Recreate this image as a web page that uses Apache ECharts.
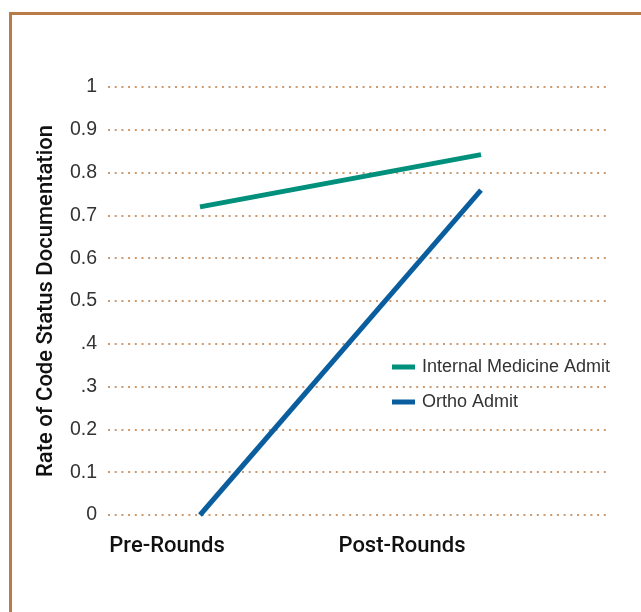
<!DOCTYPE html>
<html>
<head>
<meta charset="utf-8">
<script src="https://cdn.jsdelivr.net/npm/echarts@6/dist/echarts.min.js"></script>
<style>
html,body{margin:0;padding:0;background:#fff;}
#frame{position:absolute;left:9px;top:12px;width:700px;height:700px;border-top:3px solid #b97c48;border-left:3px solid #b97c48;box-sizing:border-box;}
#chart{position:absolute;left:0;top:0;width:641px;height:612px;}
</style>
</head>
<body>
<div id="frame"></div>
<div id="chart"></div>
<script>
const categories = ['Pre-Rounds', 'Post-Rounds'];
const seriesNames = ['Internal Medicine Admit', 'Ortho Admit'];
const internalMedicine = [0.72, 0.842];
const orthoAdmit = [0.0, 0.759];
const yTickLabels = ['0', '0.1', '0.2', '.3', '.4', '0.5', '0.6', '0.7', '0.8', '0.9', '1'];
const yAxisTitle = 'Rate of Code Status Documentation';

const chart = echarts.init(document.getElementById('chart'), null, {renderer: 'canvas'});
const FONT = "'Liberation Sans', Arial, sans-serif";
const BOLDFONT = "Roboto, sans-serif";
const TOP = 87, BOTTOM = 612 - 515;
const yCommon = {type: 'value', min: 0, max: 1, interval: 0.1};

chart.setOption({
  animation: false,
  backgroundColor: 'transparent',
  grid: [
    {left: 108, right: 33, top: TOP, bottom: BOTTOM},
    {left: 59.5, width: 562, top: TOP, bottom: BOTTOM},
    {left: 49.5, width: 470, top: TOP, bottom: BOTTOM}
  ],
  xAxis: [
    {gridIndex: 0, type: 'value', show: false},
    {gridIndex: 1, type: 'category', data: categories, boundaryGap: true, show: false},
    {gridIndex: 2, type: 'category', data: categories, boundaryGap: true,
      axisLine: {show: false}, axisTick: {show: false},
      axisLabel: {color: '#111', fontFamily: BOLDFONT, fontWeight: 500, fontSize: 22, margin: 20, interval: 0}}
  ],
  yAxis: [
    Object.assign({gridIndex: 0,
      axisLine: {show: false}, axisTick: {show: false},
      splitLine: {show: true, lineStyle: {color: '#cc9a70', width: 2, type: [2, 4.7]}},
      axisLabel: {color: '#333', fontFamily: FONT, fontSize: 19.5, margin: 11,
        formatter: function (v) { return yTickLabels[Math.round(v * 10)]; }},
      name: yAxisTitle, nameLocation: 'middle', nameGap: 51,
      nameTextStyle: {color: '#111', fontFamily: BOLDFONT, fontWeight: 500, fontSize: 22}
    }, yCommon),
    Object.assign({gridIndex: 1, show: false}, yCommon),
    Object.assign({gridIndex: 2, show: false}, yCommon)
  ],
  legend: {
    orient: 'vertical', left: 392, top: 358, padding: 0, itemWidth: 23, itemHeight: 5, itemGap: 17,
    icon: 'rect',
    textStyle: {color: '#333', fontFamily: FONT, fontSize: 18, padding: [0, 0, 0, 2]},
    data: seriesNames
  },
  series: [
    {name: seriesNames[0], type: 'line', xAxisIndex: 1, yAxisIndex: 1, data: internalMedicine,
      symbol: 'none', lineStyle: {color: '#00907c', width: 5, cap: 'butt'}, itemStyle: {color: '#00907c'}},
    {name: seriesNames[1], type: 'line', xAxisIndex: 1, yAxisIndex: 1, data: orthoAdmit,
      symbol: 'none', lineStyle: {color: '#0a5e9e', width: 5, cap: 'butt'}, itemStyle: {color: '#0a5e9e'}}
  ]
});
</script>
</body>
</html>
